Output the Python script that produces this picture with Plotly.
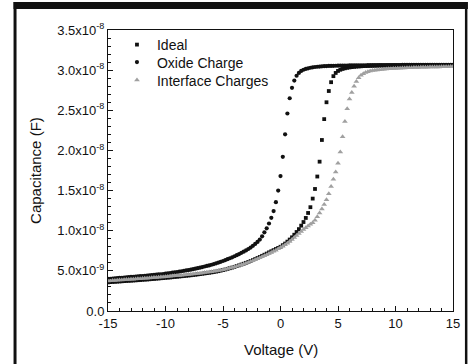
import plotly.graph_objects as go

# Voltage grid (V)
voltage = [
    -15.0, -14.8, -14.6, -14.4, -14.2, -14.0, -13.8, -13.6, -13.4, -13.2,
    -13.0, -12.8, -12.6, -12.4, -12.2, -12.0, -11.8, -11.6, -11.4, -11.2,
    -11.0, -10.8, -10.6, -10.4, -10.2, -10.0, -9.8, -9.6, -9.4, -9.2,
    -9.0, -8.8, -8.6, -8.4, -8.2, -8.0, -7.8, -7.6, -7.4, -7.2,
    -7.0, -6.8, -6.6, -6.4, -6.2, -6.0, -5.8, -5.6, -5.4, -5.2,
    -5.0, -4.8, -4.6, -4.4, -4.2, -4.0, -3.8, -3.6, -3.4, -3.2,
    -3.0, -2.8, -2.6, -2.4, -2.2, -2.0, -1.8, -1.6, -1.4, -1.2,
    -1.0, -0.8, -0.6, -0.4, -0.2, 0.0, 0.2, 0.4, 0.6, 0.8,
    1.0, 1.2, 1.4, 1.6, 1.8, 2.0, 2.2, 2.4, 2.6, 2.8,
    3.0, 3.2, 3.4, 3.6, 3.8, 4.0, 4.2, 4.4, 4.6, 4.8,
    5.0, 5.2, 5.4, 5.6, 5.8, 6.0, 6.2, 6.4, 6.6, 6.8,
    7.0, 7.2, 7.4, 7.6, 7.8, 8.0, 8.2, 8.4, 8.6, 8.8,
    9.0, 9.2, 9.4, 9.6, 9.8, 10.0, 10.2, 10.4, 10.6, 10.8,
    11.0, 11.2, 11.4, 11.6, 11.8, 12.0, 12.2, 12.4, 12.6, 12.8,
    13.0, 13.2, 13.4, 13.6, 13.8, 14.0, 14.2, 14.4, 14.6, 14.8,
    15.0,
]

# Capacitance values in units of 1e-8 F
ideal = [
    0.358, 0.360, 0.362, 0.364, 0.366, 0.368, 0.370, 0.372, 0.374, 0.376,
    0.378, 0.380, 0.382, 0.384, 0.386, 0.389, 0.391, 0.393, 0.395, 0.398,
    0.400, 0.403, 0.405, 0.408, 0.410, 0.413, 0.416, 0.418, 0.421, 0.424,
    0.427, 0.430, 0.433, 0.436, 0.439, 0.442, 0.445, 0.449, 0.452, 0.456,
    0.460, 0.464, 0.468, 0.472, 0.476, 0.481, 0.486, 0.491, 0.496, 0.503,
    0.510, 0.517, 0.525, 0.533, 0.541, 0.550, 0.559, 0.569, 0.579, 0.589,
    0.600, 0.611, 0.622, 0.634, 0.647, 0.660, 0.673, 0.687, 0.701, 0.715,
    0.730, 0.744, 0.758, 0.772, 0.786, 0.800, 0.820, 0.840, 0.864, 0.890,
    0.918, 0.950, 0.984, 1.020, 1.063, 1.108, 1.159, 1.221, 1.293, 1.400,
    1.520, 1.675, 1.860, 2.130, 2.390, 2.600, 2.740, 2.850, 2.925, 2.965,
    2.990, 3.005, 3.015, 3.023, 3.029, 3.034, 3.038, 3.041, 3.044, 3.046,
    3.048, 3.050, 3.051, 3.052, 3.053, 3.054, 3.055, 3.056, 3.057, 3.057,
    3.058, 3.058, 3.059, 3.059, 3.060, 3.060, 3.060, 3.061, 3.061, 3.061,
    3.062, 3.062, 3.062, 3.062, 3.063, 3.063, 3.063, 3.063, 3.063, 3.064,
    3.064, 3.064, 3.064, 3.064, 3.064, 3.064, 3.065, 3.065, 3.065, 3.065,
    3.065,
]

oxide_charge = [
    0.400, 0.402, 0.405, 0.407, 0.410, 0.412, 0.414, 0.417, 0.419, 0.422,
    0.424, 0.426, 0.429, 0.431, 0.434, 0.436, 0.439, 0.441, 0.444, 0.446,
    0.449, 0.452, 0.455, 0.458, 0.461, 0.465, 0.469, 0.473, 0.477, 0.481,
    0.485, 0.490, 0.495, 0.500, 0.505, 0.510, 0.515, 0.521, 0.527, 0.533,
    0.540, 0.547, 0.554, 0.561, 0.568, 0.576, 0.585, 0.594, 0.603, 0.613,
    0.623, 0.634, 0.645, 0.657, 0.669, 0.682, 0.695, 0.709, 0.724, 0.739,
    0.755, 0.772, 0.790, 0.812, 0.835, 0.860, 0.890, 0.930, 0.980, 1.030,
    1.090, 1.160, 1.245, 1.355, 1.500, 1.680, 1.920, 2.200, 2.460, 2.650,
    2.780, 2.870, 2.930, 2.965, 2.990, 3.005, 3.015, 3.023, 3.030, 3.035,
    3.039, 3.042, 3.045, 3.047, 3.049, 3.051, 3.052, 3.053, 3.054, 3.055,
    3.056, 3.057, 3.057, 3.058, 3.058, 3.059, 3.059, 3.060, 3.060, 3.060,
    3.061, 3.061, 3.061, 3.062, 3.062, 3.062, 3.062, 3.063, 3.063, 3.063,
    3.063, 3.063, 3.064, 3.064, 3.064, 3.064, 3.064, 3.064, 3.065, 3.065,
    3.065, 3.065, 3.065, 3.065, 3.065, 3.065, 3.065, 3.065, 3.065, 3.065,
    3.065, 3.065, 3.065, 3.065, 3.065, 3.065, 3.065, 3.065, 3.065, 3.065,
    3.065,
]

interface_charges = [
    0.375, 0.377, 0.379, 0.381, 0.383, 0.385, 0.387, 0.389, 0.391, 0.393,
    0.395, 0.397, 0.399, 0.401, 0.403, 0.405, 0.407, 0.409, 0.411, 0.414,
    0.416, 0.418, 0.421, 0.423, 0.425, 0.428, 0.430, 0.433, 0.435, 0.438,
    0.441, 0.443, 0.446, 0.449, 0.452, 0.455, 0.458, 0.461, 0.464, 0.467,
    0.470, 0.474, 0.478, 0.482, 0.486, 0.490, 0.494, 0.499, 0.504, 0.509,
    0.515, 0.521, 0.528, 0.535, 0.542, 0.550, 0.558, 0.567, 0.576, 0.585,
    0.595, 0.605, 0.616, 0.627, 0.638, 0.650, 0.662, 0.675, 0.688, 0.701,
    0.715, 0.729, 0.743, 0.758, 0.774, 0.790, 0.807, 0.825, 0.845, 0.865,
    0.890, 0.915, 0.940, 0.965, 0.990, 1.015, 1.038, 1.060, 1.080, 1.100,
    1.130, 1.175, 1.220, 1.270, 1.325, 1.385, 1.460, 1.550, 1.640, 1.730,
    1.840, 1.980, 2.170, 2.360, 2.520, 2.640, 2.720, 2.800, 2.860, 2.905,
    2.935, 2.955, 2.970, 2.980, 2.988, 2.995, 2.999, 3.003, 3.006, 3.009,
    3.012, 3.014, 3.016, 3.018, 3.020, 3.022, 3.024, 3.025, 3.026, 3.027,
    3.029, 3.030, 3.031, 3.032, 3.033, 3.034, 3.035, 3.035, 3.036, 3.037,
    3.038, 3.038, 3.039, 3.040, 3.040, 3.041, 3.042, 3.042, 3.043, 3.044,
    3.045,
]

UNIT = 1e-8

y_tick_vals = [0, 5e-9, 1.0e-8, 1.5e-8, 2.0e-8, 2.5e-8, 3.0e-8, 3.5e-8]
y_tick_text = ["0.0", "5.0x10<sup>-9</sup>", "1.0x10<sup>-8</sup>", "1.5x10<sup>-8</sup>",
               "2.0x10<sup>-8</sup>", "2.5x10<sup>-8</sup>", "3.0x10<sup>-8</sup>",
               "3.5x10<sup>-8</sup>"]
x_tick_vals = [-15, -10, -5, 0, 5, 10, 15]

FONT = "Arial, 'Liberation Sans', sans-serif"

fig = go.Figure()
fig.add_trace(go.Scatter(x=voltage, y=[c * UNIT for c in ideal], mode="markers",
                         name="Ideal", legend="legend",
                         marker=dict(symbol="square", size=3.8, color="#111111")))
fig.add_trace(go.Scatter(x=voltage, y=[c * UNIT for c in oxide_charge], mode="markers",
                         name="Oxide Charge", legend="legend2",
                         marker=dict(symbol="circle", size=4.2, color="#111111")))
fig.add_trace(go.Scatter(x=voltage, y=[c * UNIT for c in interface_charges], mode="markers",
                         name="Interface Charges", legend="legend3",
                         marker=dict(symbol="triangle-up", size=5, color="#a0a0a0")))


def legend_at(center_px):
    return dict(x=0.026, y=(311 - center_px) / 281, xanchor="left", yanchor="middle",
                bgcolor="rgba(0,0,0,0)", font=dict(size=14, family=FONT),
                itemsizing="trace", borderwidth=0)


fig.update_layout(
    width=472, height=364,
    margin=dict(l=108, r=17, t=30, b=53),
    paper_bgcolor="white", plot_bgcolor="white",
    font=dict(family=FONT, color="#111111", size=13),
    showlegend=True,
    legend=legend_at(45),
    legend2=legend_at(62.5),
    legend3=legend_at(80.5),
    xaxis=dict(range=[-15, 15], tickmode="array", tickvals=x_tick_vals,
               ticktext=[str(v) for v in x_tick_vals],
               ticks="inside", ticklen=5, tickwidth=1, tickcolor="#111111",
               showline=True, linecolor="#111111", linewidth=1, mirror=True,
               showgrid=False, zeroline=False,
               minor=dict(tickmode="linear", tick0=-15, dtick=1, ticks="inside",
                          ticklen=3, tickcolor="#111111", showgrid=False),
               tickfont=dict(size=13, family=FONT)),
    yaxis=dict(range=[0, 3.5e-8], tickmode="array", tickvals=y_tick_vals,
               ticktext=y_tick_text,
               ticks="inside", ticklen=5, tickwidth=1, tickcolor="#111111",
               showline=True, linecolor="#111111", linewidth=1, mirror=True,
               showgrid=False, zeroline=False,
               minor=dict(tickmode="linear", tick0=0, dtick=1e-9, ticks="inside",
                          ticklen=3, tickcolor="#111111", showgrid=False),
               tickfont=dict(size=13, family=FONT)),
    annotations=[
        dict(text="Voltage (V)", xref="paper", yref="paper",
             x=0.5, y=(311 - 350) / 281, xanchor="center", yanchor="middle",
             showarrow=False, font=dict(size=15, family=FONT)),
        dict(text="Capacitance (F)", xref="paper", yref="paper",
             x=(35 - 108) / 347, y=0.5, xanchor="center", yanchor="middle",
             textangle=-90, showarrow=False, font=dict(size=15, family=FONT)),
    ],
    shapes=[
        # outer frame: top bar, left bar, right bar
        dict(type="rect", xref="paper", yref="paper",
             x0=(13 - 108) / 347, x1=(470 - 108) / 347,
             y0=(311 - 9) / 281, y1=(311 - 2) / 281,
             fillcolor="#111111", line=dict(width=0)),
        dict(type="rect", xref="paper", yref="paper",
             x0=(13 - 108) / 347, x1=(16 - 108) / 347,
             y0=(311 - 366) / 281, y1=(311 - 2) / 281,
             fillcolor="#111111", line=dict(width=0)),
        dict(type="rect", xref="paper", yref="paper",
             x0=(467 - 108) / 347, x1=(469.5 - 108) / 347,
             y0=(311 - 366) / 281, y1=(311 - 2) / 281,
             fillcolor="#111111", line=dict(width=0)),
    ],
)

fig.write_html("out.html", config={"displayModeBar": False},
               post_script="document.body.style.margin='0';document.body.style.overflow='hidden';")
